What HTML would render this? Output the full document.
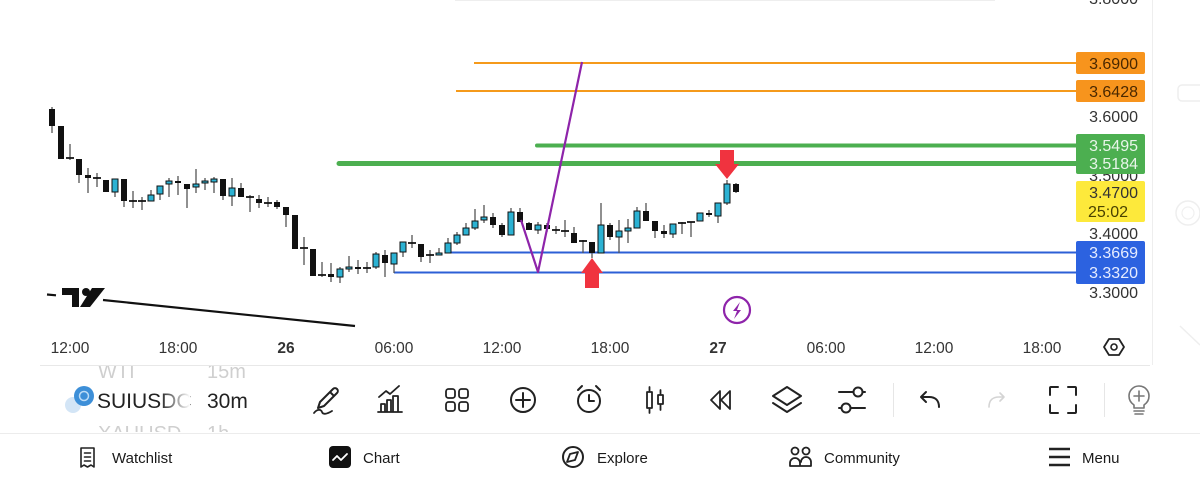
<!DOCTYPE html>
<html><head><meta charset="utf-8"><style>
html,body{margin:0;padding:0;background:#fff;width:1200px;height:482px;overflow:hidden}
svg{display:block}
text{font-family:"Liberation Sans",sans-serif}
.ax{font-size:15.5px;fill:#333}
.pr{font-size:16px}
.ic{fill:none;stroke:#222;stroke-width:2;stroke-linecap:round;stroke-linejoin:round}
.nav{font-size:15px;fill:#1a1a1a}
</style></head><body>
<svg width="1200" height="482" viewBox="0 0 1200 482" xmlns="http://www.w3.org/2000/svg">
<defs>
<linearGradient id="fade" x1="0" x2="1" y1="0" y2="0"><stop offset="0" stop-color="#fff" stop-opacity="0"/><stop offset="1" stop-color="#fff" stop-opacity="1"/></linearGradient>
<clipPath id="tb"><rect x="0" y="366" width="1200" height="66"/></clipPath>
</defs>
<rect width="1200" height="482" fill="#fff"/>
<line x1="455" y1="0.5" x2="995" y2="0.5" stroke="#eee" stroke-width="1"/>
<line x1="1152.5" y1="0" x2="1152.5" y2="365" stroke="#eee" stroke-width="1"/>
<rect x="1178" y="85" width="26" height="16" rx="4" fill="none" stroke="#eeeeee" stroke-width="1.5"/>
<circle cx="1188" cy="213" r="12" fill="none" stroke="#eeeeee" stroke-width="1.5"/>
<circle cx="1188" cy="213" r="6" fill="none" stroke="#f0f0f0" stroke-width="1.2"/>
<line x1="1180" y1="326" x2="1200" y2="345" stroke="#eeeeee" stroke-width="1.5"/>

<line x1="47" y1="294.5" x2="56" y2="295.3" stroke="#111" stroke-width="2.2"/>
<line x1="103" y1="300" x2="355" y2="326" stroke="#111" stroke-width="2.2"/>
<path d="M62 288h17v19h-7v-12h-10z" fill="#111"/>
<circle cx="86" cy="292" r="4" fill="#111"/>
<path d="M92 288h13l-15 19h-10z" fill="#111"/>

<line x1="474" y1="63" x2="1076" y2="63" stroke="#f59a1b" stroke-width="2"/>
<line x1="456" y1="91" x2="1076" y2="91" stroke="#f59a1b" stroke-width="2"/>
<line x1="537" y1="145.5" x2="1076" y2="145.5" stroke="#4caf50" stroke-width="4" stroke-linecap="round"/>
<line x1="339" y1="163.5" x2="1076" y2="163.5" stroke="#4caf50" stroke-width="5" stroke-linecap="round"/>
<line x1="448" y1="252.5" x2="1076" y2="252.5" stroke="#2c5fd6" stroke-width="2"/>
<line x1="394" y1="272.5" x2="1076" y2="272.5" stroke="#2c5fd6" stroke-width="2"/>

<path fill="none" stroke="#555" stroke-width="1.3" d="M52 107V133M61 126V159M70 144V160M79 159V183M88 168V193M97 173V187M106 180V192M115 179V197M124 179V207M133 191V208M142 197V210M151 190V201M160 186V200M169 178V197M178 176V195M187 184V208M196 169V193M205 178V190M214 177V193M223 179V200M232 178V206M241 183V197M250 195V212M259 195V208M268 197V207M277 200V209M286 207V227M295 215V249M304 237V265M313 249V276M322 262V277M331 263V282M340 267V283M349 256V272M358 260V274M367 262V273M376 252V269M385 250V277M394 253V273M403 242V257M412 235V248M421 244V262M430 250V263M439 248V255M448 238V253M457 232V245M466 223V235M475 209V230M484 205V223M493 213V228M502 223V237M511 208V235M520 208V222M529 222V230M538 222V234M547 223V232M556 226V234M565 220V237M574 227V243M583 240V253M592 242V258M601 203V253M610 223V240M619 220V253M628 219V243M637 207V228M646 203V221M655 221V238M664 225V238M673 224V238M682 222V234M691 222V237M700 213V221M709 210V217M718 203V223M727 180V205M736 183V193"/>
<path fill="#111" d="M49 109h6v17h-6zM58 126h6v33h-6zM76 159h6v16h-6zM85 175h6v3h-6zM103 180h6v12h-6zM121 179h6v22h-6zM175 181h6v2h-6zM184 184h6v5h-6zM220 179h6v17h-6zM238 188h6v9h-6zM256 199h6v4h-6zM274 202h6v5h-6zM283 207h6v8h-6zM292 215h6v34h-6zM310 249h6v27h-6zM328 274h6v3h-6zM355 267h6v2h-6zM382 255h6v8h-6zM418 244h6v13h-6zM490 217h6v8h-6zM499 225h6v10h-6zM517 212h6v10h-6zM526 223h6v7h-6zM544 225h6v4h-6zM571 233h6v10h-6zM589 242h6v11h-6zM607 225h6v12h-6zM643 211h6v10h-6zM652 221h6v10h-6zM661 231h6v3h-6zM706 213h6v2h-6zM733 184h6v8h-6z"/>
<path fill="none" stroke="#111" stroke-width="1.7" d="M66 158h8M93 178h8M129 201h8M138 201h8M246 197h8M264 203h8M300 248h8M318 275h8M363 268h8M408 243h8M426 255h8M552 230h8M561 231h8M579 241h8M678 223h8M687 222h8"/>
<path fill="#2cb2d3" stroke="#111" stroke-width="1" d="M112 179h6v13h-6zM148 195h6v6h-6zM157 186h6v8h-6zM166 181h6v3h-6zM193 184h6v3h-6zM202 181h6v2h-6zM211 179h6v3h-6zM229 188h6v8h-6zM337 269h6v8h-6zM346 267h6v2h-6zM373 254h6v13h-6zM391 253h6v11h-6zM400 242h6v10h-6zM436 253h6v2h-6zM445 243h6v10h-6zM454 235h6v8h-6zM463 228h6v7h-6zM472 221h6v7h-6zM481 217h6v3h-6zM508 212h6v23h-6zM535 225h6v5h-6zM598 225h6v28h-6zM616 231h6v6h-6zM625 228h6v3h-6zM634 211h6v17h-6zM670 224h6v10h-6zM697 213h6v8h-6zM715 203h6v13h-6zM724 184h6v19h-6z"/>

<path d="M521 220L538 272L582 62" fill="none" stroke="#8e24aa" stroke-width="2.2" stroke-linejoin="round"/>
<path d="M720 150h14v14h5l-12 15l-12-15h5z" fill="#f0333f"/>
<path d="M592 258l11 15h-4v15h-14v-15h-4z" fill="#f0333f"/>
<circle cx="737" cy="310" r="13" fill="none" stroke="#8e24aa" stroke-width="2.2"/>
<path d="M740 302l-7 9h4l-3 8l7-9h-4z" fill="#8e24aa"/>

<text class="pr" x="1138" y="4" text-anchor="end" fill="#333">3.8000</text>
<text class="pr" x="1138" y="122" text-anchor="end" fill="#333">3.6000</text>
<text class="pr" x="1138" y="181" text-anchor="end" fill="#333">3.5000</text>
<text class="pr" x="1138" y="239" text-anchor="end" fill="#333">3.4000</text>
<text class="pr" x="1138" y="298" text-anchor="end" fill="#333">3.3000</text>
<rect x="1076" y="52" width="69" height="22" rx="2" fill="#f7941d"/>
<text class="pr" x="1138" y="69" text-anchor="end" fill="#4a2800">3.6900</text>
<rect x="1076" y="80" width="69" height="22" rx="2" fill="#f7941d"/>
<text class="pr" x="1138" y="97" text-anchor="end" fill="#4a2800">3.6428</text>
<rect x="1076" y="134" width="69" height="40" rx="2" fill="#4caf50"/>
<text class="pr" x="1138" y="151" text-anchor="end" fill="#e8f5e9">3.5495</text>
<text class="pr" x="1138" y="169" text-anchor="end" fill="#e8f5e9">3.5184</text>
<rect x="1076" y="181" width="69" height="41" rx="2" fill="#fde93b"/>
<text class="pr" x="1138" y="198" text-anchor="end" fill="#333">3.4700</text>
<text class="pr" x="1088" y="217" fill="#4a4200">25:02</text>
<rect x="1076" y="241" width="69" height="43" rx="2" fill="#2c62e0"/>
<text class="pr" x="1138" y="258" text-anchor="end" fill="#e6ecff">3.3669</text>
<text class="pr" x="1138" y="278" text-anchor="end" fill="#e6ecff">3.3320</text>

<text class="ax" x="70" y="353" text-anchor="middle">12:00</text>
<text class="ax" x="178" y="353" text-anchor="middle">18:00</text>
<text class="ax" x="286" y="353" text-anchor="middle" font-weight="bold">26</text>
<text class="ax" x="394" y="353" text-anchor="middle">06:00</text>
<text class="ax" x="502" y="353" text-anchor="middle">12:00</text>
<text class="ax" x="610" y="353" text-anchor="middle">18:00</text>
<text class="ax" x="718" y="353" text-anchor="middle" font-weight="bold">27</text>
<text class="ax" x="826" y="353" text-anchor="middle">06:00</text>
<text class="ax" x="934" y="353" text-anchor="middle">12:00</text>
<text class="ax" x="1042" y="353" text-anchor="middle">18:00</text>
<path d="M1104 347l5-8h10l5 8l-5 8h-10z" class="ic" style="stroke-width:1.8"/>
<circle cx="1114" cy="347" r="3" class="ic" style="stroke-width:1.6"/>
<line x1="40" y1="365.5" x2="1150" y2="365.5" stroke="#e8e8e8" stroke-width="1"/>

<g clip-path="url(#tb)">
<text x="98" y="378" font-size="20" fill="#cfcfcf">WTI</text>
<text x="207" y="378" font-size="20" fill="#cfcfcf">15m</text>
<text x="98" y="440" font-size="20" fill="#cfcfcf">XAUUSD</text>
<text x="207" y="440" font-size="20" fill="#cfcfcf">1h</text>
</g>
<circle cx="73" cy="405" r="8" fill="#d3e5f6"/>
<circle cx="84" cy="396" r="10" fill="#3d8fd8"/>
<circle cx="84" cy="396" r="4.5" fill="none" stroke="#bcdcf7" stroke-width="1.5"/>
<text x="97" y="408" font-size="21" fill="#222">SUIUSDC</text>
<rect x="160" y="385" width="30" height="30" fill="url(#fade)"/>
<text x="207" y="408" font-size="21" fill="#222">30m</text>

<path class="ic" d="M320 402l13-13a2.5 2.5 0 0 1 4 4l-13 13l-6 2z M330 392l4 4"/>
<path class="ic" d="M314 413c3-4 7-4 8-1s5 2 10-1" style="stroke-width:1.8"/>
<path class="ic" d="M378 412h24M381 404h4v8h-4zM387 400h4v12h-4zM393 396h5v16h-5z" style="stroke-width:1.8"/>
<path class="ic" d="M379 397l7-6l4 3l9-8" style="stroke-width:1.8"/>
<rect x="446" y="389" width="9" height="9" rx="2.5" class="ic" style="stroke-width:1.8"/>
<rect x="459" y="389" width="9" height="9" rx="2.5" class="ic" style="stroke-width:1.8"/>
<rect x="446" y="402" width="9" height="9" rx="2.5" class="ic" style="stroke-width:1.8"/>
<rect x="459" y="402" width="9" height="9" rx="2.5" class="ic" style="stroke-width:1.8"/>
<circle cx="523" cy="400" r="12" class="ic"/>
<path class="ic" d="M516 400h14M523 393v14"/>
<circle cx="589" cy="401" r="11" class="ic"/>
<path class="ic" d="M589 395v6h5M578 390l4-4M600 390l-4-4"/>
<path class="ic" d="M647 392h5v16h-5zM649.5 387v5M649.5 408v5M658 395h5v9h-5zM660.5 390v5M660.5 404v6" style="stroke-width:1.8"/>
<path class="ic" d="M720 391l-9 9l9 9zM730 391l-9 9l9 9z" style="stroke-width:1.8"/>
<path class="ic" d="M787 387l14 9l-14 9l-14-9z M773 403l14 9l14-9"/>
<path class="ic" d="M839 392h26M839 408h26"/>
<circle cx="858" cy="392" r="4.5" fill="#fff" stroke="#222" stroke-width="2"/>
<circle cx="846" cy="408" r="4.5" fill="#fff" stroke="#222" stroke-width="2"/>
<line x1="893.5" y1="383" x2="893.5" y2="417" stroke="#e6e6e6"/>
<path class="ic" d="M939 407c0-7-4-10-10-10h-7M926 392l-5 5l5 5"/>
<path class="ic" d="M989 407c0-7 4-10 10-10h5M1000 393l4 4l-4 4" style="stroke:#d4d4d4;stroke-width:1.6"/>
<path class="ic" d="M1050 395v-7a1 1 0 0 1 1-1h7M1068 387h7a1 1 0 0 1 1 1v7M1076 405v7a1 1 0 0 1-1 1h-7M1058 413h-7a1 1 0 0 1-1-1v-7"/>
<line x1="1104.5" y1="383" x2="1104.5" y2="417" stroke="#e6e6e6"/>
<path class="ic" d="M1134 405c-3-2-5-5-5-9a10 10 0 0 1 20 0c0 4-2 7-5 9v3h-10z M1139 391v10M1134 396h10 M1134 411h10M1135 414h8" style="stroke:#777;stroke-width:1.6"/>
<line x1="0" y1="433.5" x2="1200" y2="433.5" stroke="#ececec" stroke-width="1"/>

<path class="ic" d="M81 448h13v19l-3-2l-3.5 2l-3.5-2l-3 2z M84.5 453h6M84.5 457h6M84.5 461h6" style="stroke-width:1.6"/>
<text class="nav" x="112" y="463">Watchlist</text>
<rect x="329" y="446" width="22" height="22" rx="4" fill="#111"/>
<path d="M333 460l4-4l4 4l6-6" fill="none" stroke="#fff" stroke-width="1.8" stroke-linejoin="round" stroke-linecap="round"/>
<text class="nav" x="363" y="463">Chart</text>
<circle cx="573" cy="457" r="10" class="ic"/>
<path d="M578 452l-3 8l-8 2l3-8z" fill="none" stroke="#222" stroke-width="1.8" stroke-linejoin="round"/>
<text class="nav" x="597" y="463">Explore</text>
<circle cx="795" cy="451" r="3.5" class="ic" style="stroke-width:1.8"/>
<circle cx="806" cy="451" r="3.5" class="ic" style="stroke-width:1.8"/>
<path class="ic" d="M790 466v-3a5 5 0 0 1 10 0v3zM801 462a5 5 0 0 1 10 0v4h-10" style="stroke-width:1.8"/>
<text class="nav" x="824" y="463">Community</text>
<path class="ic" d="M1049 449h21M1049 457h21M1049 465h21" style="stroke-width:2.6;stroke-linecap:butt"/>
<text class="nav" x="1082" y="463">Menu</text>
</svg>
</body></html>
